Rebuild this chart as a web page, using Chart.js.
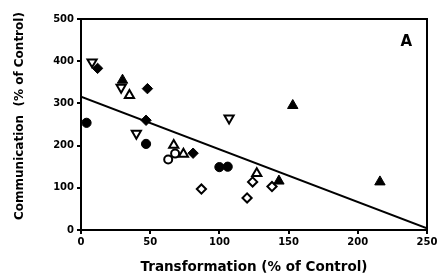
<!DOCTYPE html>
<html>
<head>
<meta charset="utf-8">
<script src="https://cdn.jsdelivr.net/npm/chart.js@4/dist/chart.umd.min.js"></script>
<style>
html,body{margin:0;padding:0;background:#fff;}
#wrap{width:440px;height:277px;}
</style>
</head>
<body>
<div id="wrap"><canvas id="c" width="440" height="277"></canvas></div>
<script>
// ---- data ----
const filledCircleX = [4, 47, 100, 106];
const filledCircleY = [254, 204, 149, 150];
const openCircleX = [63, 68];
const openCircleY = [167, 181];
const filledTriangleX = [30, 143, 153, 216];
const filledTriangleY = [355, 116, 295, 114];
const openTriangleX = [35, 67, 74, 127];
const openTriangleY = [319, 201, 180, 134];
const openDownTriangleX = [8, 29, 40, 107];
const openDownTriangleY = [398, 338, 229, 265];
const filledDiamondX = [12, 48, 47, 81];
const filledDiamondY = [383, 335, 260, 182];
const openDiamondX = [87, 120, 124, 138];
const openDiamondY = [97, 76, 114, 103];
const fitLineX = [0, 250];
const fitLineY = [316, 4];
const xTicks = [0, 50, 100, 150, 200, 250];
const yTicks = [0, 100, 200, 300, 400, 500];
const xTitle = 'Transformation (% of Control)';
const yTitle = 'Communication  (% of Control)';
const panelLabel = 'A';

const pts = (xs, ys) => xs.map((x, i) => ({x: x, y: ys[i]}));
const FONT = "'DejaVu Sans'";

function markerSet(xs, ys, style, filled, r, rot) {
  return {
    type: 'scatter',
    data: pts(xs, ys),
    pointStyle: style,
    rotation: rot || 0,
    pointRadius: r,
    pointHoverRadius: r,
    backgroundColor: filled ? '#000' : '#fff',
    borderColor: '#000',
    borderWidth: filled ? 1 : 2
  };
}

const framePlugin = {
  id: 'frame',
  afterDatasetsDraw(chart) {
    const {ctx, chartArea: a, scales} = chart;
    ctx.save();
    ctx.strokeStyle = '#000';
    ctx.lineWidth = 2;
    ctx.beginPath();
    ctx.moveTo(a.left, a.top);
    ctx.lineTo(a.right, a.top);
    ctx.lineTo(a.right, a.bottom);
    ctx.stroke();
    ctx.fillStyle = '#000';
    ctx.font = "bold 15px " + FONT;
    ctx.textAlign = 'center';
    ctx.textBaseline = 'middle';
    ctx.fillText(panelLabel, scales.x.getPixelForValue(235), scales.y.getPixelForValue(445));
    // y axis title
    ctx.font = "bold 12px " + FONT;
    ctx.translate(20, scales.y.getPixelForValue(270));
    ctx.rotate(-Math.PI / 2);
    ctx.fillText(yTitle, 0, 0);
    ctx.restore();
  }
};

new Chart(document.getElementById('c'), {
  data: {
    datasets: [
      {
        type: 'line',
        data: pts(fitLineX, fitLineY),
        borderColor: '#000',
        borderWidth: 2,
        pointRadius: 0,
        fill: false
      },
      markerSet(filledCircleX, filledCircleY, 'circle', true, 4.6),
      markerSet(openCircleX, openCircleY, 'circle', false, 4),
      markerSet(filledTriangleX, filledTriangleY, 'triangle', true, 6),
      markerSet(openTriangleX, openTriangleY, 'triangle', false, 5.3),
      markerSet(openDownTriangleX, openDownTriangleY, 'triangle', false, 5.3, 180),
      markerSet(filledDiamondX, filledDiamondY, 'rectRot', true, 5.2),
      markerSet(openDiamondX, openDiamondY, 'rectRot', false, 4.6)
    ]
  },
  options: {
    responsive: false,
    animation: false,
    devicePixelRatio: 1,
    layout: {padding: {top: 19, right: 13, left: 0, bottom: 0}},
    plugins: {legend: {display: false}, tooltip: {enabled: false}},
    scales: {
      x: {
        type: 'linear',
        min: 0, max: 250,
        afterBuildTicks: s => { s.ticks = xTicks.map(v => ({value: v})); },
        afterFit: s => { s.height = 47; },
        ticks: {color: '#000', font: {family: FONT, size: 10, weight: 'bold'}, padding: 2, maxRotation: 0},
        grid: {display: true, drawOnChartArea: false, drawTicks: true, tickLength: 4, color: '#000', lineWidth: 2},
        border: {display: true, color: '#000', width: 2},
        title: {display: true, text: xTitle, color: '#000', font: {family: FONT, size: 13.5, weight: 'bold'}, padding: {top: 0, bottom: 1.5}}
      },
      y: {
        type: 'linear',
        min: 0, max: 500,
        afterBuildTicks: s => { s.ticks = yTicks.map(v => ({value: v})); },
        afterFit: s => { s.width = 81; },
        ticks: {color: '#000', font: {family: FONT, size: 10, weight: 'bold'}, padding: 3},
        grid: {display: true, drawOnChartArea: false, drawTicks: true, tickLength: 4, color: '#000', lineWidth: 2},
        border: {display: true, color: '#000', width: 2},
        title: {display: false, text: yTitle}
      }
    }
  },
  plugins: [framePlugin]
});
</script>
</body>
</html>
